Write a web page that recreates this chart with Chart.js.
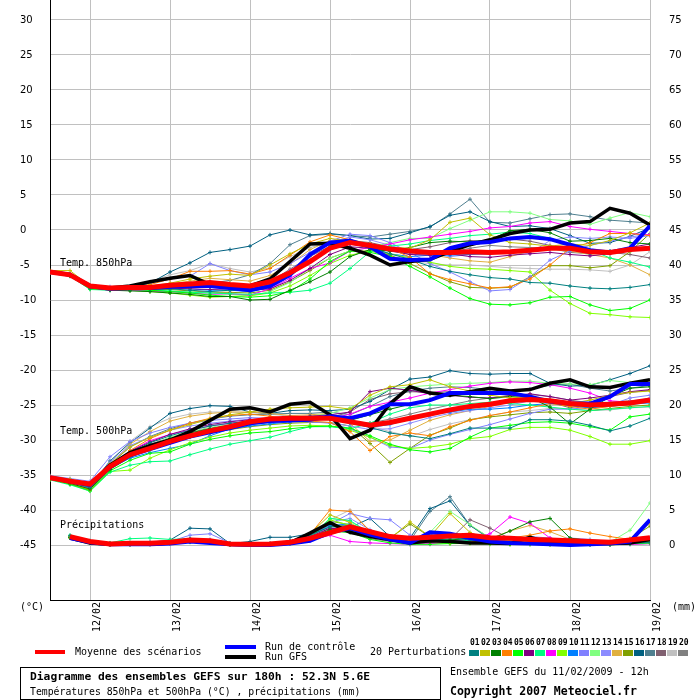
<!DOCTYPE html>
<html><head><meta charset="utf-8">
<script src="https://cdn.jsdelivr.net/npm/chart.js@4/dist/chart.umd.min.js"></script>
<style>
body{margin:0;background:#fff;}
#wrap{position:relative;width:700px;height:700px;overflow:hidden;background:#fff;font-family:"DejaVu Sans Mono",monospace;color:#000;}
#c{position:absolute;left:0;top:0;}
.t{position:absolute;white-space:pre;line-height:1;font-size:10px;}
.bar{position:absolute;}
.sw{position:absolute;width:10px;height:6px;top:650px;}
.num{position:absolute;top:639px;font-size:8px;font-weight:bold;line-height:1;white-space:pre;}
#box{position:absolute;left:20px;top:667px;width:419px;height:31px;border:1px solid #000;}
</style></head><body><div id="wrap">
<canvas id="c" width="700" height="640"></canvas>
<div class="t" style="left:60px;top:258px;">Temp. 850hPa</div>
<div class="t" style="left:60px;top:426px;">Temp. 500hPa</div>
<div class="t" style="left:60px;top:520px;">Précipitations</div>
<div class="t" style="left:20px;top:602px;">(°C)</div>
<div class="t" style="left:672px;top:602px;">(mm)</div>
<div class="bar" style="left:35px;top:650px;width:30px;height:4px;background:#ff0000;"></div>
<div class="t" style="left:75px;top:647px;">Moyenne des scénarios</div>
<div class="bar" style="left:225px;top:645px;width:31px;height:4px;background:#0000ff;"></div>
<div class="bar" style="left:225px;top:655px;width:31px;height:4px;background:#000000;"></div>
<div class="t" style="left:265px;top:642px;">Run de contrôle</div>
<div class="t" style="left:265px;top:652px;">Run GFS</div>
<div class="t" style="left:370px;top:647px;">20 Perturbations</div>
<div id="legendSw"></div>
<div id="box"></div>
<div class="t" style="left:30px;top:671px;font-size:11.3px;font-weight:bold;">Diagramme des ensembles GEFS sur 180h : 52.3N 5.6E</div>
<div class="t" style="left:30px;top:687px;font-size:9.8px;">Températures 850hPa et 500hPa (°C) , précipitations (mm)</div>
<div class="t" style="left:450px;top:667px;">Ensemble GEFS du 11/02/2009 - 12h</div>
<div class="t" style="left:450px;top:686px;font-size:11.5px;font-weight:bold;">Copyright 2007 Meteociel.fr</div>
</div>
<script>
// ---- axis / category data ----
const hours = [0,6,12,18,24,30,36,42,48,54,60,66,72,78,84,90,96,102,108,114,120,126,132,138,144,150,156,162,168,174,180];
const dayTicks = [12,36,60,84,108,132,156,180];
const dayLabels = ['12/02','13/02','14/02','15/02','16/02','17/02','18/02','19/02'];
const tempTicks = [-45,-40,-35,-30,-25,-20,-15,-10,-5,0,5,10,15,20,25,30];
const precipTicks = [0,5,10,15,20,25,30,35,40,45,50,55,60,65,70,75];
const memberNames = ['01','02','03','04','05','06','07','08','09','10','11','12','13','14','15','16','17','18','19','20'];
const memberColors = ['#008080','#c0c000','#008000','#ff8000','#00ff00','#800080','#00ff80','#ff00ff','#80ff00','#0080ff','#8080ff','#80ff80','#8c8cff','#e0b040','#80a000','#006080','#4f7f8f','#806070','#c0c0c0','#808080'];

// ---- Temp 850 hPa (°C) ----
const t850Mean    = [-6.0,-6.4,-8.0,-8.3,-8.2,-8.2,-7.9,-7.7,-7.5,-7.8,-8.0,-7.4,-6.1,-4.5,-2.6,-1.8,-2.2,-2.7,-3.0,-3.2,-3.2,-3.1,-3.2,-3.1,-2.9,-2.6,-2.6,-3.1,-3.2,-2.8,-2.6];
const t850Control = [-6.0,-6.4,-8.0,-8.4,-8.3,-8.3,-8.1,-8.0,-8.0,-8.3,-8.6,-8.0,-6.4,-3.5,-1.8,-1.5,-2.4,-4.1,-4.3,-4.2,-2.6,-1.9,-1.7,-1.2,-1.0,-1.3,-2.1,-2.9,-3.2,-2.6,0.6];
const t850Gfs     = [-6.0,-6.4,-8.0,-8.3,-8.0,-7.4,-6.9,-6.5,-7.8,-8.0,-8.0,-7.0,-4.5,-2.0,-1.9,-2.6,-3.6,-5.0,-4.5,-4.2,-3.1,-2.1,-1.4,-0.5,0.0,0.1,1.0,1.2,3.1,2.4,0.7];
const t850Members = [
 [-6.0,-6.5,-8.3,-8.5,-8.4,-8.5,-8.4,-8.6,-8.8,-8.6,-8.7,-8.0,-6.0,-3.5,-2.0,-1.8,-2.5,-3.4,-4.2,-5.2,-5.9,-6.4,-6.8,-7.0,-7.5,-7.6,-8.0,-8.3,-8.4,-8.2,-7.8],
 [-5.8,-5.8,-8.0,-8.3,-8.2,-8.0,-7.6,-7.0,-6.6,-6.3,-6.5,-5.0,-3.4,-2.0,-1.2,-1.6,-2.2,-2.5,-2.6,-1.4,1.1,1.7,-0.7,-1.8,-2.0,-2.3,-2.0,-2.2,-1.5,-0.4,1.0],
 [-6.0,-6.5,-8.2,-8.6,-8.7,-8.8,-9.0,-9.2,-9.5,-9.5,-10.0,-9.9,-8.6,-7.4,-6.0,-3.8,-2.8,-3.0,-2.5,-1.8,-1.6,-1.7,-1.4,-0.1,0.1,-0.4,-1.6,-1.5,-1.2,-1.8,-2.0],
 [-6.1,-6.4,-8.1,-8.3,-8.2,-7.8,-7.0,-5.9,-5.9,-5.8,-6.3,-5.5,-3.6,-1.7,-0.7,-1.4,-2.0,-2.6,-3.9,-6.3,-7.1,-7.7,-8.3,-8.1,-7.0,-5.0,-2.6,-1.8,-0.5,-0.5,-0.8],
 [-6.0,-6.5,-8.4,-8.5,-8.5,-8.6,-8.8,-9.0,-9.3,-9.5,-9.6,-9.4,-8.8,-7.0,-4.5,-3.0,-3.2,-3.8,-5.2,-6.7,-8.3,-9.8,-10.6,-10.7,-10.4,-9.6,-9.5,-10.7,-11.5,-11.2,-10.0],
 [-6.0,-6.4,-8.2,-8.5,-8.5,-8.4,-8.3,-8.4,-8.5,-8.4,-8.6,-8.4,-7.2,-5.5,-3.5,-2.4,-2.6,-3.0,-3.5,-3.6,-3.4,-3.8,-3.9,-3.6,-3.4,-3.2,-3.5,-3.7,-3.4,-2.5,-2.0],
 [-6.0,-6.6,-8.5,-8.6,-8.4,-8.6,-8.7,-8.9,-9.0,-9.1,-9.2,-9.0,-8.9,-8.6,-7.6,-5.5,-3.1,-2.3,-2.0,-1.5,-1.2,-0.8,-0.6,-0.3,-0.5,-1.2,-2.0,-2.8,-4.0,-4.6,-5.3],
 [-6.0,-6.5,-8.3,-8.6,-8.6,-8.7,-8.8,-9.0,-9.2,-9.1,-9.3,-8.4,-6.9,-5.5,-4.7,-3.0,-2.5,-2.0,-1.4,-1.0,-0.6,-0.2,0.3,0.5,1.0,1.2,0.5,0.1,-0.2,-0.5,-0.7],
 [-6.0,-6.4,-8.3,-8.5,-8.6,-8.8,-9.0,-9.3,-9.6,-9.5,-9.4,-9.0,-8.0,-6.5,-4.8,-3.6,-3.0,-3.4,-4.0,-4.6,-5.2,-5.5,-5.6,-5.8,-6.0,-8.6,-10.5,-11.9,-12.1,-12.4,-12.5],
 [-6.1,-6.5,-8.2,-8.4,-8.3,-8.3,-8.2,-8.4,-8.6,-8.6,-8.8,-8.2,-6.6,-4.5,-2.8,-2.0,-2.5,-3.4,-3.8,-3.6,-3.6,-3.5,-3.4,-3.2,-3.0,-2.4,-2.8,-3.4,-3.0,-2.7,-2.6],
 [-6.0,-6.2,-8.0,-8.1,-8.0,-7.6,-7.0,-6.6,-4.8,-5.8,-6.4,-6.0,-4.8,-3.2,-1.6,-0.6,-0.8,-1.8,-3.2,-4.8,-6.0,-7.4,-8.7,-8.5,-6.7,-4.3,-3.0,-2.2,-1.6,-1.0,-0.6],
 [-6.0,-6.4,-8.2,-8.5,-8.6,-8.7,-8.8,-8.8,-9.0,-9.2,-9.4,-8.8,-7.5,-5.5,-4.0,-3.0,-2.5,-1.8,-1.2,-1.2,0.2,1.4,2.6,2.6,2.4,1.5,1.3,0.8,1.7,2.5,1.9],
 [-6.0,-6.3,-8.1,-8.3,-8.1,-8.0,-7.8,-7.6,-7.4,-7.8,-8.2,-7.6,-5.8,-3.6,-1.8,-1.0,-1.4,-2.2,-3.0,-3.4,-3.8,-3.5,-3.0,-3.2,-3.3,-1.5,-1.0,-1.2,-1.0,-1.2,-0.8],
 [-6.0,-6.4,-8.2,-8.3,-8.2,-8.0,-7.7,-7.3,-6.9,-7.1,-7.3,-6.5,-4.9,-2.8,-1.5,-1.4,-2.0,-2.6,-3.0,-3.5,-4.0,-4.4,-4.6,-3.8,-3.0,-2.7,-3.0,-3.5,-4.0,-5.0,-6.4],
 [-6.0,-6.5,-8.3,-8.5,-8.5,-8.6,-8.5,-8.7,-8.9,-8.9,-9.0,-8.6,-7.4,-5.8,-4.0,-3.0,-3.0,-3.6,-4.8,-6.2,-7.4,-8.2,-8.3,-8.2,-6.7,-5.1,-5.1,-5.4,-5.1,-3.1,-0.5],
 [-6.0,-6.4,-8.2,-8.3,-8.2,-7.6,-6.0,-4.7,-3.2,-2.8,-2.3,-0.7,0.0,-0.7,-0.5,-0.8,-1.3,-1.2,-0.4,0.5,2.1,2.6,1.2,0.5,0.6,0.2,-0.8,-1.9,-1.8,-0.9,0.3],
 [-6.0,-6.5,-8.3,-8.4,-8.3,-8.2,-8.0,-7.8,-7.6,-7.2,-6.4,-4.8,-2.1,-0.8,-0.6,-0.8,-1.0,-0.6,-0.2,0.4,2.3,4.4,1.1,1.0,1.6,2.2,2.3,1.9,1.4,1.2,1.0],
 [-6.0,-6.4,-8.2,-8.4,-8.3,-8.3,-8.1,-8.1,-8.2,-8.0,-8.1,-7.4,-5.6,-3.8,-2.3,-1.5,-1.8,-2.4,-2.8,-2.4,-1.8,-1.5,-1.6,-1.3,-1.6,-2.2,-2.8,-2.9,-3.2,-3.5,-4.0],
 [-6.1,-6.3,-8.0,-8.2,-8.0,-7.4,-6.4,-5.8,-4.8,-5.5,-6.0,-5.4,-3.8,-2.5,-1.8,-1.6,-2.6,-3.6,-4.5,-4.8,-5.0,-5.0,-5.2,-5.4,-5.5,-5.6,-5.6,-5.7,-5.9,-5.0,-3.1],
 [-6.1,-6.6,-8.4,-8.6,-8.5,-8.5,-8.4,-8.2,-8.0,-8.2,-8.4,-7.8,-6.2,-4.4,-2.4,-1.7,-2.0,-2.8,-3.5,-3.4,-3.2,-2.6,-2.2,-2.4,-2.5,-2.6,-3.2,-3.4,-3.0,-2.6,-2.4]
];

// ---- Temp 500 hPa (°C) ----
const t500Mean    = [-35.4,-35.9,-36.3,-33.8,-32.1,-31.2,-30.2,-29.4,-28.7,-28.1,-27.4,-27.0,-26.9,-26.9,-26.9,-27.4,-27.9,-27.5,-26.9,-26.3,-25.7,-25.2,-24.9,-24.4,-24.2,-24.4,-24.8,-25.0,-24.9,-24.7,-24.3];
const t500Control = [-35.4,-35.9,-36.4,-33.9,-32.2,-31.3,-30.4,-29.5,-28.9,-28.3,-27.6,-27.3,-27.2,-27.1,-26.6,-26.9,-26.2,-24.9,-24.9,-24.3,-23.3,-23.3,-23.3,-23.3,-23.8,-24.5,-24.8,-24.8,-23.8,-22.0,-22.0];
const t500Gfs     = [-35.4,-35.9,-36.4,-33.6,-31.8,-30.8,-30.0,-28.8,-27.2,-25.6,-25.4,-26.0,-24.9,-24.6,-26.4,-29.8,-28.6,-24.8,-22.4,-23.3,-23.6,-23.1,-22.6,-23.0,-22.8,-21.9,-21.4,-22.4,-22.5,-21.9,-21.4];
const t500Members = [
 [-35.4,-36.0,-36.8,-33.9,-31.8,-30.4,-29.4,-28.6,-28.0,-27.6,-27.3,-27.0,-26.8,-26.7,-26.8,-27.4,-28.2,-29.0,-29.4,-29.8,-29.1,-28.3,-28.3,-28.3,-27.1,-27.1,-27.3,-27.9,-28.7,-28.0,-26.9],
 [-35.2,-35.6,-36.2,-33.4,-31.0,-29.6,-28.6,-27.8,-27.0,-26.4,-26.0,-25.6,-25.4,-25.3,-25.2,-25.6,-23.6,-22.4,-22.1,-21.4,-22.4,-23.0,-23.6,-24.0,-23.8,-24.4,-24.8,-24.3,-23.6,-23.2,-23.0],
 [-35.5,-36.2,-37.0,-34.2,-32.0,-30.8,-29.8,-29.0,-28.4,-27.9,-27.6,-27.3,-27.1,-27.0,-27.0,-27.2,-26.4,-25.6,-24.9,-24.2,-23.6,-23.8,-24.1,-23.8,-23.9,-25.3,-27.7,-25.6,-23.8,-22.6,-22.4],
 [-35.6,-36.2,-37.1,-33.9,-31.5,-29.8,-28.6,-27.6,-26.9,-26.5,-26.3,-26.6,-27.0,-27.3,-27.5,-28.8,-31.5,-29.5,-29.0,-29.4,-28.1,-27.2,-26.5,-26.0,-25.4,-24.8,-25.2,-25.6,-25.2,-24.8,-24.6],
 [-35.6,-36.3,-37.2,-34.4,-32.9,-31.9,-31.7,-30.6,-29.9,-29.4,-29.0,-28.8,-28.4,-28.1,-28.0,-28.3,-29.4,-30.6,-31.4,-31.7,-31.2,-29.6,-28.3,-27.9,-27.5,-27.4,-27.6,-28.1,-28.6,-26.7,-26.3],
 [-35.3,-35.8,-36.5,-33.6,-31.6,-30.3,-29.2,-28.4,-27.8,-27.4,-27.1,-26.9,-26.7,-26.6,-26.4,-26.0,-23.1,-22.6,-22.9,-23.4,-23.6,-23.9,-24.0,-23.7,-23.4,-23.8,-24.3,-24.0,-23.6,-23.1,-22.8],
 [-35.7,-36.4,-37.3,-34.6,-33.6,-33.1,-33.0,-32.1,-31.3,-30.6,-30.1,-29.6,-28.8,-28.1,-28.1,-28.4,-27.6,-26.3,-25.4,-25.0,-25.0,-24.8,-24.6,-24.8,-25.0,-25.3,-25.6,-25.8,-25.6,-25.4,-25.2],
 [-35.5,-36.0,-36.8,-33.8,-31.6,-30.1,-29.2,-28.6,-28.0,-27.6,-27.3,-27.2,-27.2,-27.2,-27.0,-26.3,-25.2,-24.6,-24.0,-23.3,-22.8,-22.3,-21.9,-21.7,-21.8,-22.1,-22.6,-23.3,-24.4,-24.6,-24.2],
 [-35.6,-36.3,-37.3,-34.5,-34.3,-32.6,-31.4,-30.4,-29.6,-29.0,-28.6,-28.3,-28.0,-27.9,-28.0,-28.6,-29.6,-30.8,-31.2,-31.0,-30.6,-29.8,-29.5,-28.5,-28.2,-28.2,-28.6,-29.5,-30.6,-30.6,-30.1],
 [-35.4,-36.0,-36.9,-34.0,-32.6,-31.8,-31.2,-30.6,-29.4,-28.4,-28.0,-27.7,-27.4,-27.2,-27.0,-27.6,-28.2,-27.8,-27.0,-26.4,-26.0,-25.6,-25.6,-25.4,-25.0,-24.8,-25.1,-25.4,-25.2,-24.9,-24.7],
 [-35.1,-35.5,-35.9,-32.4,-30.2,-29.0,-28.2,-27.6,-27.2,-27.0,-26.8,-26.9,-27.2,-27.4,-27.6,-28.4,-29.6,-31.0,-31.2,-30.0,-29.2,-28.5,-27.8,-27.0,-26.2,-25.6,-25.6,-25.3,-25.0,-24.0,-23.6],
 [-35.5,-36.1,-37.0,-34.1,-32.2,-30.8,-29.6,-28.8,-28.2,-27.8,-27.6,-27.3,-27.0,-26.6,-26.2,-25.4,-24.0,-22.8,-22.4,-22.2,-22.0,-21.9,-21.8,-21.6,-21.6,-21.9,-22.0,-22.1,-21.5,-21.8,-21.9],
 [-35.3,-35.7,-36.4,-33.2,-30.8,-29.6,-28.6,-28.0,-27.6,-27.3,-27.0,-27.1,-27.3,-27.4,-27.5,-28.0,-28.5,-28.4,-27.6,-26.8,-26.2,-25.8,-25.4,-25.0,-24.4,-24.6,-25.0,-25.3,-25.0,-24.6,-24.0],
 [-35.4,-35.9,-36.6,-33.6,-30.6,-28.8,-27.3,-26.6,-26.2,-26.0,-26.0,-26.2,-26.5,-26.4,-26.2,-27.6,-30.2,-30.0,-28.6,-27.2,-26.4,-25.8,-25.2,-24.6,-24.4,-24.3,-24.9,-25.2,-24.8,-24.5,-24.4],
 [-35.6,-36.3,-37.1,-34.2,-32.5,-31.3,-30.4,-29.6,-29.0,-28.5,-28.1,-27.8,-27.6,-27.5,-27.5,-28.0,-30.5,-33.2,-31.2,-29.3,-28.3,-27.1,-26.7,-26.4,-26.1,-26.0,-26.2,-25.8,-25.5,-25.2,-25.0],
 [-35.3,-35.8,-36.6,-33.0,-30.4,-28.3,-26.2,-25.5,-25.1,-25.2,-26.0,-26.2,-25.8,-25.7,-25.8,-25.6,-24.5,-22.8,-21.3,-21.0,-20.1,-20.5,-20.6,-20.5,-20.5,-21.9,-22.3,-22.2,-21.4,-20.5,-19.4],
 [-35.4,-35.9,-36.7,-33.5,-31.0,-29.5,-28.4,-27.6,-27.0,-26.6,-26.4,-26.3,-26.2,-26.2,-26.0,-26.4,-25.2,-23.8,-23.0,-22.6,-22.4,-22.5,-22.8,-23.0,-22.7,-22.2,-22.0,-22.6,-23.0,-22.6,-22.2],
 [-35.5,-36.1,-36.9,-34.0,-32.0,-30.6,-29.7,-28.9,-28.3,-27.8,-27.4,-27.2,-27.1,-27.0,-26.8,-26.0,-24.2,-23.4,-23.1,-23.2,-23.1,-23.4,-23.5,-23.3,-23.6,-24.6,-25.4,-24.8,-23.8,-23.2,-22.9],
 [-35.3,-35.8,-36.5,-33.2,-30.2,-28.1,-26.9,-26.3,-26.0,-26.0,-26.1,-26.3,-26.6,-26.7,-26.8,-27.4,-28.0,-28.8,-29.5,-28.5,-27.7,-27.1,-26.5,-26.0,-25.8,-25.5,-25.5,-25.8,-25.7,-25.4,-25.3],
 [-35.5,-36.0,-36.8,-33.8,-31.9,-30.9,-30.2,-29.5,-28.8,-28.2,-27.8,-27.5,-27.2,-27.0,-26.9,-27.3,-27.6,-27.0,-26.3,-25.6,-25.0,-24.4,-24.0,-23.6,-23.5,-23.8,-24.3,-24.7,-24.6,-24.4,-24.2]
];

// ---- Precipitation (mm per 6h) ----
const prMean    = [null,1.2,0.5,0.15,0.25,0.25,0.4,0.7,0.6,0.15,0.1,0.15,0.4,0.95,1.75,2.6,1.9,1.2,0.95,1.1,1.3,1.4,1.05,0.95,0.8,0.7,0.6,0.5,0.4,0.7,1.05];
const prControl = [null,1.0,0.4,0.1,0.1,0.1,0.2,0.5,0.3,0.1,0.0,0.0,0.2,0.6,1.8,2.4,1.5,0.8,0.3,1.8,1.6,1.0,0.5,0.3,0.2,0.1,0.0,0.1,0.2,0.5,3.6];
const prGfs     = [null,1.0,0.3,0.1,0.1,0.1,0.3,0.8,0.5,0.1,0.0,0.1,0.3,1.7,3.2,1.8,1.2,0.8,0.3,0.6,0.5,0.3,0.3,0.2,1.1,0.3,0.2,0.2,0.2,0.3,0.8];
const prMembers = [
 [null,1.3,0.5,0.2,0.2,0.3,0.4,0.8,0.6,0.2,0.1,0.2,0.6,1.4,2.6,2.8,1.6,0.9,0.5,0.9,1.1,0.7,0.4,0.3,0.3,0.2,0.1,0.1,0.1,0.2,0.4],
 [null,1.2,0.4,0.1,0.1,0.2,0.3,0.7,0.5,0.1,0.1,0.1,0.4,1.6,4.3,3.2,1.4,0.9,3.3,1.2,4.5,1.8,0.6,0.3,0.2,0.3,0.2,0.2,0.2,0.3,0.6],
 [null,1.1,0.4,0.1,0.2,0.2,0.3,0.6,0.5,0.1,0.0,0.1,0.3,1.0,2.2,2.0,1.3,0.7,0.4,0.5,0.7,1.0,0.8,2.0,3.3,3.8,1.0,0.6,0.4,0.3,0.5],
 [null,1.2,0.5,0.2,0.2,0.2,0.4,0.7,0.6,0.2,0.1,0.2,0.5,1.5,5.0,4.8,2.0,1.2,0.8,0.5,0.4,0.5,0.7,1.0,1.4,2.0,2.3,1.7,1.2,0.8,0.4],
 [null,1.0,0.4,0.1,0.1,0.1,0.2,0.4,0.3,0.0,0.0,0.0,0.2,0.8,2.0,1.8,0.8,0.3,0.1,0.1,0.2,0.3,0.2,0.1,0.1,0.1,0.2,0.1,0.1,0.2,0.3],
 [null,1.1,0.4,0.1,0.1,0.2,0.3,0.5,0.4,0.1,0.0,0.1,0.3,1.2,2.4,2.2,1.2,0.6,0.3,0.4,0.6,0.5,0.3,0.2,0.2,0.3,0.2,0.1,0.1,0.3,1.0],
 [null,1.4,0.6,0.3,0.9,1.0,0.8,0.9,0.6,0.2,0.1,0.1,0.3,0.9,3.8,3.5,1.7,1.0,0.5,0.6,0.8,0.6,0.4,0.3,0.4,0.6,0.7,0.5,0.3,0.2,0.3],
 [null,1.2,0.4,0.1,0.1,0.1,0.2,0.5,0.4,0.1,0.0,0.0,0.2,0.6,1.4,0.5,0.3,0.2,0.1,0.2,0.4,0.8,1.6,4.0,3.1,1.0,0.4,0.2,0.1,0.1,0.2],
 [null,1.1,0.5,0.2,0.1,0.2,0.3,0.6,0.5,0.1,0.0,0.1,0.3,1.1,3.6,2.8,1.3,0.6,0.3,0.3,0.2,0.2,0.1,0.1,0.1,0.0,0.1,0.1,0.0,0.2,0.4],
 [null,1.2,0.5,0.1,0.2,0.2,0.3,0.6,0.5,0.1,0.1,0.1,0.4,1.3,2.8,3.0,1.6,0.8,0.4,0.7,0.9,0.6,0.4,0.2,0.3,0.4,0.3,0.2,0.2,0.4,0.8],
 [null,1.3,0.6,0.2,0.2,0.3,0.5,1.4,1.6,0.3,0.1,0.2,0.5,1.4,3.0,4.5,3.8,3.6,1.4,0.8,0.6,0.5,0.5,0.8,1.2,1.0,0.6,0.4,0.3,0.3,0.5],
 [null,1.1,0.4,0.1,0.1,0.2,0.3,0.5,0.4,0.1,0.0,0.1,0.3,1.2,3.8,3.4,1.6,0.9,0.5,1.8,4.8,2.9,1.0,0.6,0.4,0.6,0.8,0.5,0.4,2.1,6.0],
 [null,1.2,0.5,0.2,0.2,0.2,0.4,0.9,0.8,0.2,0.1,0.1,0.4,1.3,3.2,3.8,2.2,1.2,0.6,0.6,0.7,0.6,0.5,0.4,0.5,0.8,1.0,0.8,0.5,0.4,0.6],
 [null,1.1,0.4,0.1,0.1,0.1,0.3,0.6,0.5,0.1,0.0,0.1,0.3,1.1,3.0,2.6,1.4,0.8,0.4,0.5,0.8,1.0,0.9,2.0,2.8,1.9,0.8,0.6,0.5,0.9,3.1],
 [null,1.2,0.5,0.1,0.1,0.2,0.3,0.6,0.5,0.1,0.1,0.1,0.3,1.2,3.4,2.9,1.3,1.0,3.0,1.2,0.6,0.5,0.3,0.2,0.2,0.3,0.2,0.3,0.4,0.9,2.7],
 [null,1.3,0.5,0.2,0.3,0.4,0.7,2.4,2.3,0.2,0.5,1.1,1.1,1.6,3.0,2.5,3.8,1.2,1.0,5.2,6.3,2.8,1.0,0.5,0.3,0.2,0.2,0.1,0.1,0.2,0.4],
 [null,1.2,0.5,0.2,0.2,0.2,0.4,0.8,0.7,0.2,0.1,0.2,0.5,1.3,2.6,2.4,1.2,0.8,0.6,4.8,6.9,2.8,0.8,0.4,0.3,0.2,0.1,0.1,0.1,0.2,0.3],
 [null,1.1,0.4,0.1,0.1,0.2,0.3,0.5,0.4,0.1,0.0,0.1,0.3,1.0,2.4,2.1,1.1,0.6,0.3,0.4,0.8,3.6,2.4,0.9,0.4,0.3,0.2,0.2,0.1,0.2,0.3],
 [null,1.2,0.5,0.1,0.2,0.2,0.4,0.7,0.6,0.1,0.1,0.1,0.4,1.5,3.6,5.0,2.0,1.0,0.5,0.5,0.6,0.4,0.3,0.2,0.2,0.2,0.2,0.1,0.1,0.2,0.4],
 [null,1.1,0.4,0.1,0.1,0.1,0.3,0.5,0.4,0.1,0.0,0.0,0.2,0.8,2.0,1.8,0.9,0.5,0.2,0.2,0.3,0.3,0.2,0.1,0.1,0.1,0.1,0.1,0.1,0.1,0.2]
];

// ---- legend swatches (HTML text) ----
(function(){
  const host = document.getElementById('legendSw');
  memberNames.forEach((n,k)=>{
    const x = 469 + 11*k;
    const s = document.createElement('div'); s.className='sw'; s.style.left=x+'px'; s.style.background=memberColors[k]; host.appendChild(s);
    const t = document.createElement('div'); t.className='num'; t.style.left=(x+1)+'px'; t.textContent=n; host.appendChild(t);
  });
})();

function pts(arr){ return arr.map((v,i)=>({x:hours[i], y:v})); }
const datasets = [];
function addGroup(mean, ctrl, gfs, members, axis){
  datasets.push({data:pts(mean), borderColor:'#ff0000', borderWidth:5, pointRadius:0, yAxisID:axis, order:0});
  datasets.push({data:pts(ctrl), borderColor:'#0000ff', borderWidth:4, pointRadius:0, yAxisID:axis, order:1});
  datasets.push({data:pts(gfs), borderColor:'#000000', borderWidth:3.5, pointRadius:0, yAxisID:axis, order:2});
  members.forEach((m,k)=>datasets.push({data:pts(m), borderColor:memberColors[k], borderWidth:1,
    pointStyle:'cross', pointRadius:2, pointBorderColor:memberColors[k], pointBorderWidth:1, yAxisID:axis, order:3+k}));
}
addGroup(t850Mean, t850Control, t850Gfs, t850Members, 'y');
addGroup(t500Mean, t500Control, t500Gfs, t500Members, 'y');
addGroup(prMean, prControl, prGfs, prMembers, 'yR');

const tMin = tempTicks[0] - 55/7, tMax = tempTicks[tempTicks.length-1] + 20/7;
const offset = precipTicks[0] - tempTicks[0];

new Chart(document.getElementById('c'), {
  type:'line',
  data:{datasets},
  options:{
    responsive:false, animation:false, devicePixelRatio:1, events:[],
    layout:{autoPadding:false, padding:{left:20,right:0,top:0,bottom:0}},
    elements:{line:{tension:0, fill:false}},
    plugins:{legend:{display:false}, tooltip:{enabled:false}},
    scales:{
      x:{type:'linear', min:hours[0], max:hours[hours.length-1],
        afterBuildTicks:(s)=>{ s.ticks = dayTicks.map(v=>({value:v})); },
        afterFit:(s)=>{ s.height = 40; s.paddingLeft=0; s.paddingRight=0; },
        grid:{color:'#c0c0c0', lineWidth:1, drawTicks:false},
        border:{color:'#000', width:1},
        ticks:{autoSkip:false, minRotation:90, maxRotation:90, padding:2, labelOffset:7, color:'#000',
          font:{family:'DejaVu Sans Mono', size:10},
          callback:(v)=>dayLabels[dayTicks.indexOf(v)]}
      },
      y:{type:'linear', position:'left', min:tMin, max:tMax,
        afterBuildTicks:(s)=>{ s.ticks = tempTicks.map(v=>({value:v})); },
        afterFit:(s)=>{ s.width = 30; s.paddingTop=0; s.paddingBottom=0; },
        grid:{color:'#c0c0c0', lineWidth:1, drawTicks:false},
        border:{color:'#000', width:1},
        ticks:{crossAlign:'far', color:'#000', font:{family:'DejaVu Sans', size:10}, callback:(v)=>String(v)}
      },
      yR:{type:'linear', position:'right', min:tMin+offset, max:tMax+offset,
        afterBuildTicks:(s)=>{ s.ticks = precipTicks.map(v=>({value:v})); },
        afterFit:(s)=>{ s.width = 50; s.paddingTop=0; s.paddingBottom=0; },
        grid:{display:false, drawTicks:false},
        border:{display:false},
        ticks:{padding:19, color:'#000', font:{family:'DejaVu Sans', size:10}, callback:(v)=>String(v)}
      }
    }
  }
});
</script>
</body></html>
